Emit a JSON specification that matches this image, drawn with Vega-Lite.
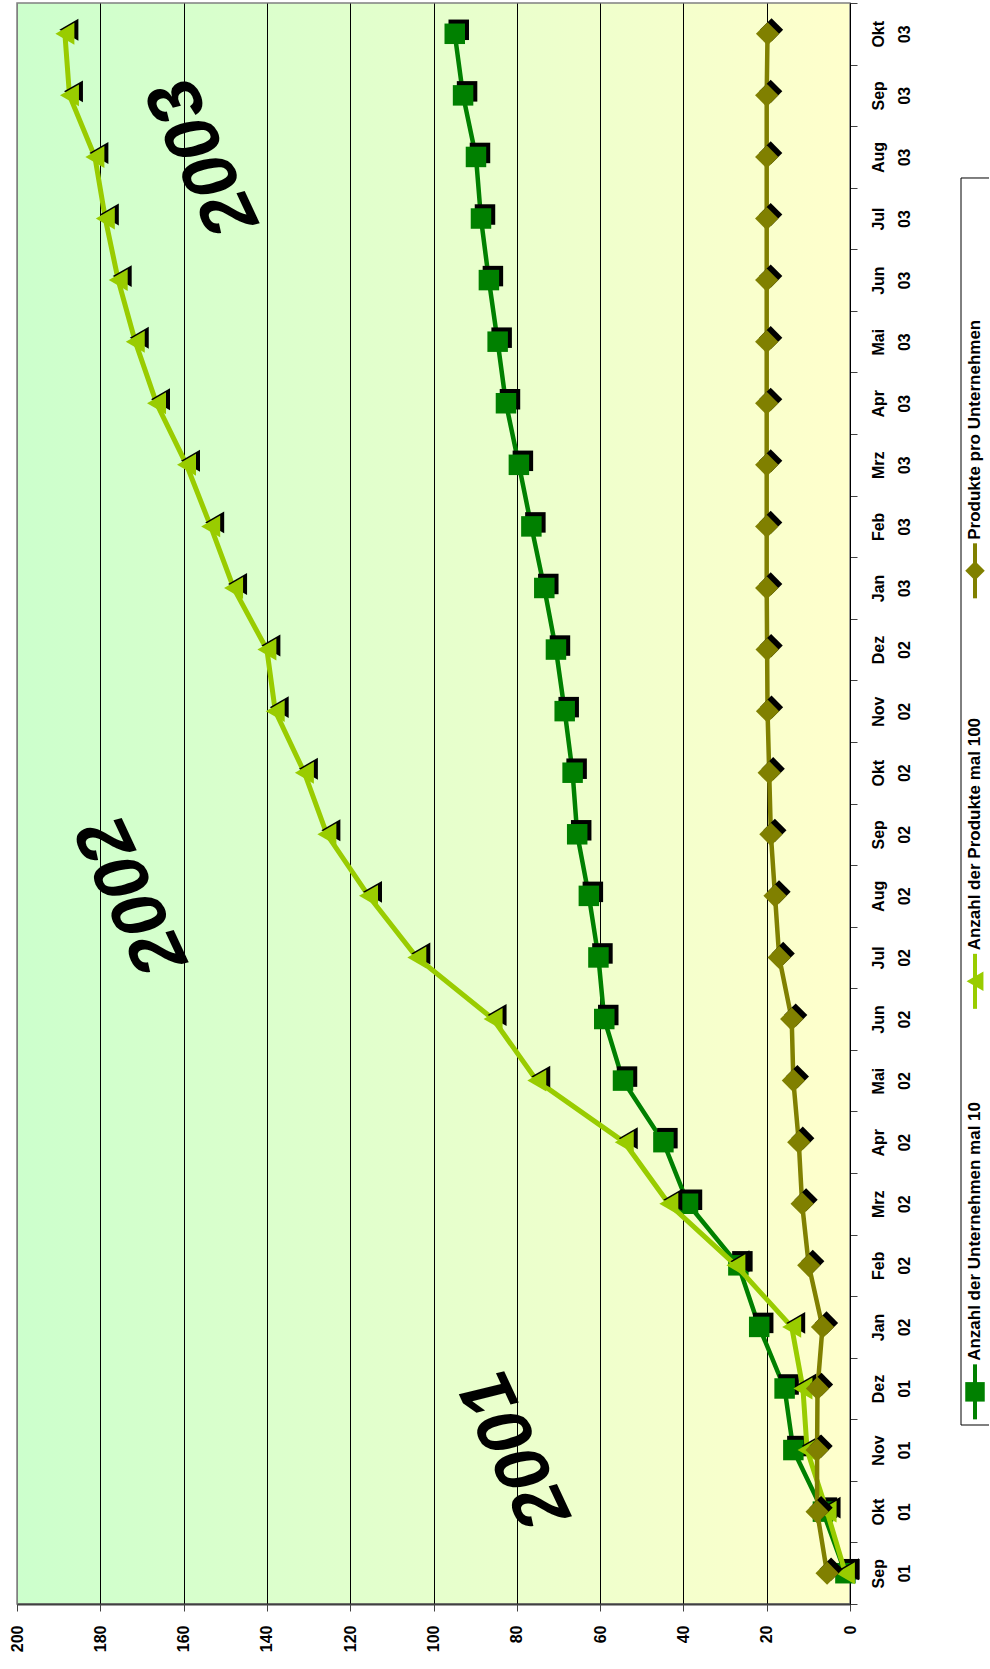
{
  "$schema": "https://vega.github.io/schema/vega-lite/v6.json",
  "background": "white",
  "padding": {"left": 8, "top": 1, "right": 0, "bottom": 0},
  "config": {"font": "Liberation Sans", "view": {"stroke": null}},
  "datasets": {
    "d": [
      {"m": "Sep 01", "s": "U", "v": 1.1}, {"m": "Okt 01", "s": "U", "v": 6.5}, {"m": "Nov 01", "s": "U", "v": 13.6}, {"m": "Dez 01", "s": "U", "v": 15.7},
      {"m": "Jan 02", "s": "U", "v": 21.8}, {"m": "Feb 02", "s": "U", "v": 26.8}, {"m": "Mrz 02", "s": "U", "v": 38.9}, {"m": "Apr 02", "s": "U", "v": 44.8},
      {"m": "Mai 02", "s": "U", "v": 54.5}, {"m": "Jun 02", "s": "U", "v": 59.0}, {"m": "Jul 02", "s": "U", "v": 60.4}, {"m": "Aug 02", "s": "U", "v": 62.7},
      {"m": "Sep 02", "s": "U", "v": 65.5}, {"m": "Okt 02", "s": "U", "v": 66.6}, {"m": "Nov 02", "s": "U", "v": 68.5}, {"m": "Dez 02", "s": "U", "v": 70.6},
      {"m": "Jan 03", "s": "U", "v": 73.4}, {"m": "Feb 03", "s": "U", "v": 76.5}, {"m": "Mrz 03", "s": "U", "v": 79.5}, {"m": "Apr 03", "s": "U", "v": 82.6},
      {"m": "Mai 03", "s": "U", "v": 84.6}, {"m": "Jun 03", "s": "U", "v": 86.7}, {"m": "Jul 03", "s": "U", "v": 88.6}, {"m": "Aug 03", "s": "U", "v": 89.8},
      {"m": "Sep 03", "s": "U", "v": 92.9}, {"m": "Okt 03", "s": "U", "v": 94.9},
      {"m": "Sep 01", "s": "P", "v": 1.1}, {"m": "Okt 01", "s": "P", "v": 5.5}, {"m": "Nov 01", "s": "P", "v": 10.3}, {"m": "Dez 01", "s": "P", "v": 11.3},
      {"m": "Jan 02", "s": "P", "v": 14.0}, {"m": "Feb 02", "s": "P", "v": 27.4}, {"m": "Mrz 02", "s": "P", "v": 43.5}, {"m": "Apr 02", "s": "P", "v": 54.2},
      {"m": "Mai 02", "s": "P", "v": 75.2}, {"m": "Jun 02", "s": "P", "v": 85.7}, {"m": "Jul 02", "s": "P", "v": 104.0}, {"m": "Aug 02", "s": "P", "v": 115.6},
      {"m": "Sep 02", "s": "P", "v": 125.6}, {"m": "Okt 02", "s": "P", "v": 131.0}, {"m": "Nov 02", "s": "P", "v": 138.0}, {"m": "Dez 02", "s": "P", "v": 140.0},
      {"m": "Jan 03", "s": "P", "v": 148.0}, {"m": "Feb 03", "s": "P", "v": 153.5}, {"m": "Mrz 03", "s": "P", "v": 159.3}, {"m": "Apr 03", "s": "P", "v": 166.5},
      {"m": "Mai 03", "s": "P", "v": 171.6}, {"m": "Jun 03", "s": "P", "v": 175.7}, {"m": "Jul 03", "s": "P", "v": 178.8}, {"m": "Aug 03", "s": "P", "v": 181.3},
      {"m": "Sep 03", "s": "P", "v": 187.4}, {"m": "Okt 03", "s": "P", "v": 188.5},
      {"m": "Sep 01", "s": "R", "v": 5.5}, {"m": "Okt 01", "s": "R", "v": 7.9}, {"m": "Nov 01", "s": "R", "v": 7.9}, {"m": "Dez 01", "s": "R", "v": 7.8},
      {"m": "Jan 02", "s": "R", "v": 6.6}, {"m": "Feb 02", "s": "R", "v": 9.9}, {"m": "Mrz 02", "s": "R", "v": 11.5}, {"m": "Apr 02", "s": "R", "v": 12.3},
      {"m": "Mai 02", "s": "R", "v": 13.6}, {"m": "Jun 02", "s": "R", "v": 14.0}, {"m": "Jul 02", "s": "R", "v": 17.0}, {"m": "Aug 02", "s": "R", "v": 18.0},
      {"m": "Sep 02", "s": "R", "v": 19.0}, {"m": "Okt 02", "s": "R", "v": 19.4}, {"m": "Nov 02", "s": "R", "v": 19.8}, {"m": "Dez 02", "s": "R", "v": 19.9},
      {"m": "Jan 03", "s": "R", "v": 20.0}, {"m": "Feb 03", "s": "R", "v": 20.0}, {"m": "Mrz 03", "s": "R", "v": 20.0}, {"m": "Apr 03", "s": "R", "v": 20.0},
      {"m": "Mai 03", "s": "R", "v": 20.0}, {"m": "Jun 03", "s": "R", "v": 20.0}, {"m": "Jul 03", "s": "R", "v": 20.0}, {"m": "Aug 03", "s": "R", "v": 20.0},
      {"m": "Sep 03", "s": "R", "v": 20.0}, {"m": "Okt 03", "s": "R", "v": 19.8}
    ],
    "years": [
      {"t": "2001", "m": "Nov 01", "v": 80},
      {"t": "2002", "m": "Aug 02", "v": 172},
      {"t": "2003", "m": "Aug 03", "v": 155}
    ],
    "bounds": [{"m": "Jan 02"}, {"m": "Jan 03"}],
    "legend": [
      {"name": "Anzahl der Unternehmen mal 10"},
      {"name": "Anzahl der Produkte mal 100"},
      {"name": "Produkte pro Unternehmen"}
    ]
  },
  "spacing": 47,
  "hconcat": [
    {
      "width": 833,
      "height": 1601,
      "view": {
        "fill": {"gradient": "linear", "x1": 0, "y1": 0, "x2": 1, "y2": 0,
          "stops": [{"offset": 0, "color": "#ccffcc"}, {"offset": 1, "color": "#ffffcc"}]},
        "stroke": "#808080",
        "strokeWidth": 1.5
      },
      "encoding": {
        "y": {
          "field": "m", "type": "ordinal",
          "sort": ["Okt 03","Sep 03","Aug 03","Jul 03","Jun 03","Mai 03","Apr 03","Mrz 03","Feb 03","Jan 03","Dez 02","Nov 02","Okt 02","Sep 02","Aug 02","Jul 02","Jun 02","Mai 02","Apr 02","Mrz 02","Feb 02","Jan 02","Dez 01","Nov 01","Okt 01","Sep 01"],
          "scale": {"type": "band", "paddingInner": 0, "paddingOuter": 0},
          "axis": {
            "orient": "right", "title": null, "labelAngle": 270, "labelAlign": "center", "labelBaseline": "top",
            "labelFontSize": 16, "labelFontWeight": "bold", "labelColor": "black", "labelPadding": 13,
            "labelLineHeight": 26, "labelExpr": "split(datum.label, ' ')", "tickBand": "extent",
            "tickSize": 7, "tickColor": "#404040", "domainColor": "black", "domainWidth": 1, "grid": false
          }
        },
        "x": {
          "field": "v", "type": "quantitative",
          "scale": {"domain": [0, 200], "reverse": true, "nice": false},
          "axis": {
            "orient": "bottom", "title": null, "values": [0,20,40,60,80,100,120,140,160,180,200],
            "labelAngle": 270, "labelAlign": "right", "labelBaseline": "middle", "labelFontSize": 16,
            "labelFontWeight": "bold", "labelColor": "black", "labelPadding": 14, "labelFlush": false,
            "labelOverlap": false, "tickSize": 7, "tickColor": "#404040", "domainColor": "#404040",
            "domainWidth": 2, "grid": true, "gridWidth": 1,
            "gridColor": {"condition": {"test": "datum.value == 200", "value": "#808080"}, "value": "black"}
          }
        }
      },
      "layer": [
        {
          "data": {"name": "bounds"},
          "mark": {"type": "rule", "color": "black", "strokeWidth": 1.5},
          "encoding": {
            "y": {"field": "m", "type": "ordinal", "bandPosition": 1,
              "sort": ["Okt 03","Sep 03","Aug 03","Jul 03","Jun 03","Mai 03","Apr 03","Mrz 03","Feb 03","Jan 03","Dez 02","Nov 02","Okt 02","Sep 02","Aug 02","Jul 02","Jun 02","Mai 02","Apr 02","Mrz 02","Feb 02","Jan 02","Dez 01","Nov 01","Okt 01","Sep 01"]},
            "x": {"datum": 0},
            "x2": {"datum": 200}
          }
        },
        {"data": {"name": "d"}, "transform": [{"filter": "datum.s == 'U'"}],
          "mark": {"type": "line", "color": "#008000", "strokeWidth": 4.5}},
        {"data": {"name": "d"}, "transform": [{"filter": "datum.s == 'U'"}],
          "mark": {"type": "point", "shape": "square", "size": 420, "filled": true, "color": "black", "opacity": 1, "xOffset": 4, "yOffset": -4}},
        {"data": {"name": "d"}, "transform": [{"filter": "datum.s == 'U'"}],
          "mark": {"type": "point", "shape": "square", "size": 420, "filled": true, "color": "#008000", "opacity": 1}},
        {"data": {"name": "d"}, "transform": [{"filter": "datum.s == 'P'"}],
          "mark": {"type": "line", "color": "#99cc00", "strokeWidth": 5}},
        {"data": {"name": "d"}, "transform": [{"filter": "datum.s == 'P'"}],
          "mark": {"type": "point", "shape": "triangle-left", "size": 480, "filled": true, "color": "black", "opacity": 1, "xOffset": 4, "yOffset": -4}},
        {"data": {"name": "d"}, "transform": [{"filter": "datum.s == 'P'"}],
          "mark": {"type": "point", "shape": "triangle-left", "size": 480, "filled": true, "color": "#99cc00", "opacity": 1}},
        {"data": {"name": "d"}, "transform": [{"filter": "datum.s == 'R'"}],
          "mark": {"type": "line", "color": "#808000", "strokeWidth": 4.5}},
        {"data": {"name": "d"}, "transform": [{"filter": "datum.s == 'R'"}],
          "mark": {"type": "point", "shape": "diamond", "size": 540, "filled": true, "color": "black", "opacity": 1, "xOffset": 4, "yOffset": -4}},
        {"data": {"name": "d"}, "transform": [{"filter": "datum.s == 'R'"}],
          "mark": {"type": "point", "shape": "diamond", "size": 540, "filled": true, "color": "#808000", "opacity": 1}},
        {
          "data": {"name": "years"},
          "mark": {"type": "text", "font": "Liberation Sans", "fontSize": 74, "fontWeight": "bold", "fontStyle": "italic",
            "angle": 245, "align": "center", "baseline": "middle", "color": "black"},
          "encoding": {"text": {"field": "t"}}
        }
      ]
    },
    {
      "width": 28,
      "height": 1601,
      "view": {"stroke": null},
      "resolve": {"scale": {"y": "independent"}},
      "layer": [
        {
          "data": {"values": [{}]},
          "layer": [
            {"mark": {"type": "rule", "color": "black", "strokeWidth": 1},
              "encoding": {"x": {"datum": 0, "type": "quantitative", "scale": {"domain": [0, 1]}, "axis": null},
                "y": {"datum": 11.18, "type": "quantitative", "scale": {"domain": [0, 100]}, "axis": null},
                "y2": {"datum": 89.07}}},
            {"mark": {"type": "rule", "color": "black", "strokeWidth": 1},
              "encoding": {"x": {"datum": 0, "type": "quantitative"}, "x2": {"datum": 1},
                "y": {"datum": 89.07, "type": "quantitative"}}},
            {"mark": {"type": "rule", "color": "black", "strokeWidth": 1},
              "encoding": {"x": {"datum": 0, "type": "quantitative"}, "x2": {"datum": 1},
                "y": {"datum": 11.18, "type": "quantitative"}}}
          ]
        },
        {
          "data": {"name": "legend"},
          "encoding": {
            "y": {"field": "name", "type": "ordinal",
              "sort": ["Produkte pro Unternehmen", "Anzahl der Produkte mal 100", "Anzahl der Unternehmen mal 10"],
              "scale": {"type": "point", "padding": 0.95, "align": 0.728}, "axis": null},
            "x": {"datum": 0.5, "type": "quantitative"},
            "color": {"field": "name", "type": "nominal", "legend": null,
              "scale": {"domain": ["Anzahl der Unternehmen mal 10", "Anzahl der Produkte mal 100", "Produkte pro Unternehmen"],
                "range": ["#008000", "#99cc00", "#808000"]}}
          },
          "layer": [
            {"mark": {"type": "tick", "orient": "vertical", "size": 55, "thickness": 4, "opacity": 1}},
            {"mark": {"type": "point", "filled": true, "opacity": 1, "size": 380},
              "encoding": {"shape": {"field": "name", "type": "nominal", "legend": null,
                "scale": {"domain": ["Anzahl der Unternehmen mal 10", "Anzahl der Produkte mal 100", "Produkte pro Unternehmen"],
                  "range": ["square", "triangle-left", "diamond"]}}}},
            {"mark": {"type": "text", "angle": 270, "align": "left", "baseline": "middle", "dx": 31,
                "fontSize": 17, "fontWeight": "bold", "font": "Liberation Sans"},
              "encoding": {"text": {"field": "name"}, "color": {"value": "black"}}}
          ]
        }
      ]
    }
  ]
}
